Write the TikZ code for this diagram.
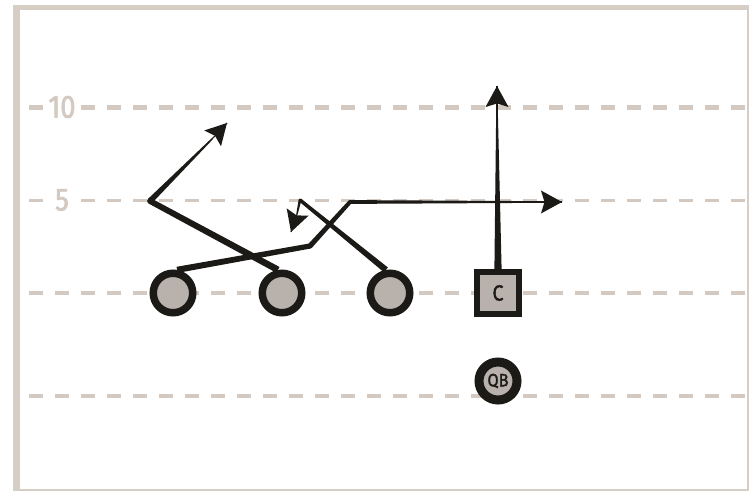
\documentclass[tikz,border=0pt]{standalone}
\usepackage{fontspec}
\setmainfont{Fira Sans}
\newfontfamily\yardfont[FakeStretch=0.85,FakeBold=2]{Fira Sans}
\newfontfamily\labfont[FakeStretch=0.9,FakeBold=1.5]{Fira Sans}
\usetikzlibrary{calc}
\definecolor{framec}{HTML}{D6CDC5}
\definecolor{dashc}{HTML}{D4C9C0}
\definecolor{darkc}{HTML}{1B1A17}
\definecolor{fillc}{HTML}{B9B1AB}
\newcommand\tseg[4]{\fill[darkc] ($(#1)!#3!90:(#2)$) -- ($(#2)!#4!-90:(#1)$) -- ($(#2)!#4!90:(#1)$) -- ($(#1)!#3!-90:(#2)$) -- cycle;}
\newcommand\ahead[2]{\fill[darkc] (#1) -- ($(#1)!24pt!28.7:(#2)$) -- ($(#1)!17.5pt!(#2)$) -- ($(#1)!24pt!-28.7:(#2)$) -- cycle;}
\tikzset{
  yardline/.style={draw=dashc, dash pattern=on 14pt off 12pt},
  yardnum/.style={text=dashc, fill=white, inner sep=0pt, minimum width=36pt, minimum height=20pt, font=\yardfont\fontsize{32}{32}\selectfont},
  player/.style={circle, draw=darkc, line width=7.5pt, fill=fillc, minimum size=39.5pt, inner sep=0pt},
  center/.style={rectangle, draw=darkc, line width=6pt, fill=fillc, minimum size=42pt, inner sep=0pt, text=darkc, font=\labfont\fontsize{22}{22}\selectfont},
  qb/.style={circle, draw=darkc, line width=9pt, fill=fillc, minimum size=38pt, inner sep=0pt, text=darkc, font=\labfont\fontsize{18}{18}\selectfont},
  tipline/.style={draw=darkc, line width=1.1pt}
}
\begin{document}
\begin{tikzpicture}[x=1pt,y=-1pt]
\useasboundingbox (0,0) rectangle (749,492);
% frame
\fill[framec] (13,5) rectangle (749,491);
\fill[white] (20,10) rectangle (747,489);
% yard lines
\begin{scope}
\clip (20,10) rectangle (747,489);
\draw[yardline, line width=5pt] (29,108) -- (760,108);
\draw[yardline, line width=3pt] (29,200) -- (760,200);
\draw[yardline, line width=4.5pt] (29,293) -- (760,293);
\draw[yardline, line width=4.5pt] (29,396) -- (760,396);
\end{scope}
\node[yardnum] (n10) at (62,107) {10};
\node[yardnum] (n5) at (62,200) {5};
% players
\node[player] (p1) at (173,293) {};
\node[player] (p2) at (282,293) {};
\node[player] (p3) at (390,293) {};
\node[center] (c) at (498,293) {C};
\node[qb] (qb) at (498,381) {QB};
% route coordinates
\coordinate (a1) at (310,246);
\coordinate (b1) at (350,202);
\coordinate (c1) at (530,202);
\coordinate (t1) at (562,202);
\coordinate (a2) at (150,201);
\coordinate (b2) at (212,139);
\coordinate (t2) at (227,123);
\coordinate (a3) at (300,200);
\coordinate (b3) at (297,214);
\coordinate (t3) at (291,232);
\coordinate (b4) at (497,110);
\coordinate (t4) at (497,86);
% route 1
\tseg{p1.80}{a1}{3.1pt}{2.6pt}
\fill[darkc] (a1) circle (2.6pt);
\tseg{a1}{b1}{2.6pt}{2pt}
\fill[darkc] (b1) circle (2pt);
\tseg{b1}{c1}{1.9pt}{0.9pt}
\draw[tipline] (c1) -- (t1);
\ahead{t1}{c1}
% route 2
\tseg{p2.100}{a2}{3.3pt}{2.9pt}
\fill[darkc] (a2) circle (2.9pt);
\tseg{a2}{b2}{2.9pt}{0.8pt}
\draw[tipline] (b2) -- (t2);
\ahead{t2}{b2}
% route 3
\tseg{p3.100}{a3}{3.1pt}{1.7pt}
\fill[darkc] (a3) circle (1.6pt);
\tseg{a3}{b3}{1.4pt}{0.7pt}
\draw[tipline] (b3) -- (t3);
\ahead{t3}{b3}
% route 4
\tseg{c.north}{b4}{3.6pt}{0.8pt}
\draw[tipline] (b4) -- (t4);
\ahead{t4}{b4}
\end{tikzpicture}
\end{document}
